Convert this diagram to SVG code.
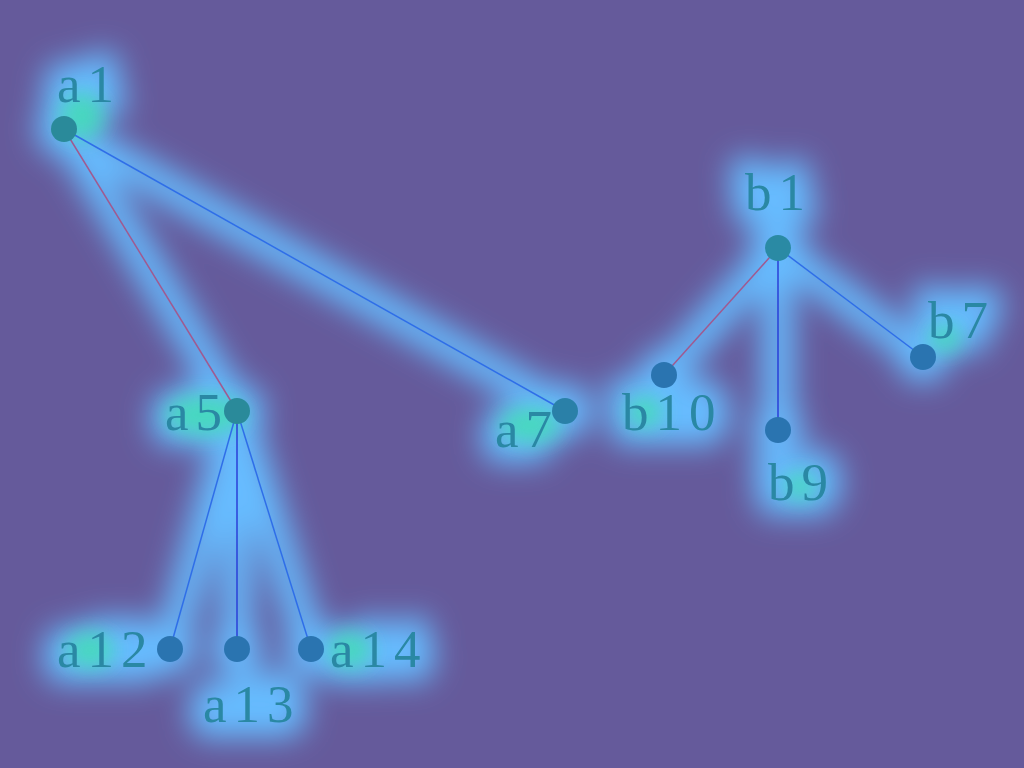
<svg xmlns="http://www.w3.org/2000/svg" width="1024" height="768" viewBox="0 0 1024 768">
<defs>
<filter id="blur" x="-30%" y="-30%" width="160%" height="160%"><feGaussianBlur stdDeviation="15"/></filter>
<filter id="blur2" x="-50%" y="-50%" width="200%" height="200%"><feGaussianBlur stdDeviation="10"/></filter>
<style>
.g{stroke:#66bcff;stroke-width:32;stroke-linecap:round;fill:none}
.gc{fill:#66bcff}
.gt{fill:#66bcff;stroke:#66bcff;stroke-width:32;stroke-linejoin:round;font-family:"Liberation Serif",serif;font-size:53px;letter-spacing:7px}
.hot{fill:#3fe0b0}
.e{stroke-width:1.5;fill:none}
.blue{stroke:#2f6ee8}
.red{stroke:#a05a90}
.dark{stroke:#2a3fd8}
.n{fill:#2a74b0}
.t{fill:#2a88a4;font-family:"Liberation Serif",serif;font-size:53px;letter-spacing:7px}
</style>
</defs>
<rect width="1024" height="768" fill="#655a9b"/>
<g id="glow" filter="url(#blur)">
<line class="g" x1="64" y1="129" x2="237" y2="411"/>
<line class="g" x1="64" y1="129" x2="565" y2="411"/>
<line class="g" x1="237" y1="411" x2="170" y2="649"/>
<line class="g" x1="237" y1="411" x2="237" y2="649"/>
<line class="g" x1="237" y1="411" x2="311" y2="649"/>
<line class="g" x1="778" y1="248" x2="664" y2="375"/>
<line class="g" x1="778" y1="248" x2="778" y2="430"/>
<line class="g" x1="778" y1="248" x2="923" y2="357"/>
<circle class="gc" cx="64" cy="129" r="28"/>
<circle class="gc" cx="237" cy="411" r="28"/>
<circle class="gc" cx="565" cy="411" r="28"/>
<circle class="gc" cx="170" cy="649" r="26"/>
<circle class="gc" cx="237" cy="649" r="26"/>
<circle class="gc" cx="311" cy="649" r="26"/>
<circle class="gc" cx="778" cy="248" r="28"/>
<circle class="gc" cx="664" cy="375" r="26"/>
<circle class="gc" cx="778" cy="430" r="26"/>
<circle class="gc" cx="923" cy="357" r="26"/>
<text class="gt" x="57" y="102">a1</text>
<text class="gt" x="165" y="430">a5</text>
<text class="gt" x="495" y="447">a7</text>
<text class="gt" x="57" y="667">a12</text>
<text class="gt" x="203" y="722">a13</text>
<text class="gt" x="330" y="667">a14</text>
<text class="gt" x="745" y="210">b1</text>
<text class="gt" x="622" y="430">b10</text>
<text class="gt" x="768" y="500">b9</text>
<text class="gt" x="928" y="338">b7</text>
</g>
<g id="hot" filter="url(#blur2)" opacity="0.8">
<ellipse class="hot" cx="82" cy="116" rx="22" ry="24"/>
<ellipse class="hot" cx="205" cy="415" rx="40" ry="20"/>
<ellipse class="hot" cx="530" cy="425" rx="30" ry="18"/>
<ellipse class="hot" cx="350" cy="650" rx="22" ry="18"/>
<ellipse class="hot" cx="90" cy="650" rx="24" ry="18"/>
<ellipse class="hot" cx="645" cy="412" rx="18" ry="16"/>
<ellipse class="hot" cx="800" cy="486" rx="16" ry="14"/>
<ellipse class="hot" cx="945" cy="338" rx="16" ry="14"/>
</g>
<g id="connectors">
<line class="e red" x1="64" y1="129" x2="237" y2="411"/>
<line class="e blue" x1="64" y1="129" x2="565" y2="411"/>
<line class="e blue" x1="237" y1="411" x2="170" y2="649"/>
<line class="e dark" x1="237" y1="411" x2="237" y2="649"/>
<line class="e blue" x1="237" y1="411" x2="311" y2="649"/>
<line class="e red" x1="778" y1="248" x2="664" y2="375"/>
<line class="e dark" x1="778" y1="248" x2="778" y2="430"/>
<line class="e blue" x1="778" y1="248" x2="923" y2="357"/>
</g>
<g id="a1"><circle class="n" cx="64" cy="129" r="13" style="fill:#2a8a9a"/><text class="t" x="57" y="102">a1</text></g>
<g id="a5"><circle class="n" cx="237" cy="411" r="13" style="fill:#2a8a9a"/><text class="t" x="165" y="430">a5</text></g>
<g id="a7"><circle class="n" cx="565" cy="411" r="13" style="fill:#2a80a8"/><text class="t" x="495" y="447">a7</text></g>
<g id="a12"><circle class="n" cx="170" cy="649" r="13"/><text class="t" x="57" y="667">a12</text></g>
<g id="a13"><circle class="n" cx="237" cy="649" r="13"/><text class="t" x="203" y="722">a13</text></g>
<g id="a14"><circle class="n" cx="311" cy="649" r="13"/><text class="t" x="330" y="667">a14</text></g>
<g id="b1"><circle class="n" cx="778" cy="248" r="13" style="fill:#2a8aa4"/><text class="t" x="745" y="210">b1</text></g>
<g id="b10"><circle class="n" cx="664" cy="375" r="13"/><text class="t" x="622" y="430">b10</text></g>
<g id="b9"><circle class="n" cx="778" cy="430" r="13"/><text class="t" x="768" y="500">b9</text></g>
<g id="b7"><circle class="n" cx="923" cy="357" r="13"/><text class="t" x="928" y="338">b7</text></g>
</svg>
